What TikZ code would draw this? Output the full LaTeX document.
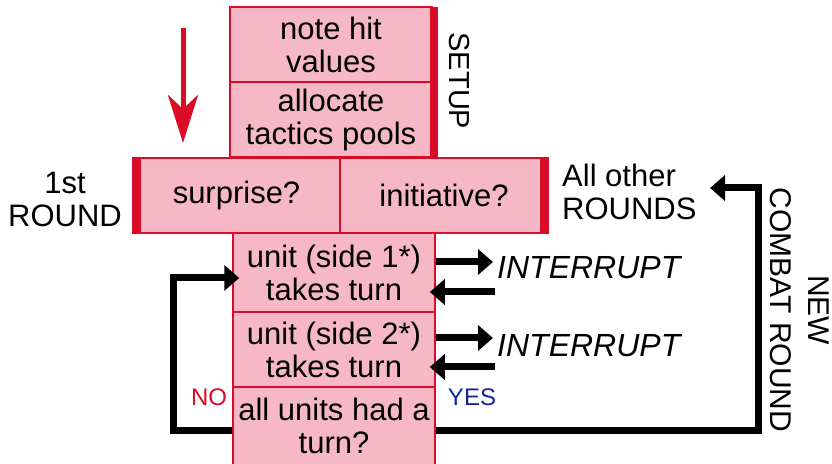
\documentclass[tikz,border=0pt]{standalone}
\usepackage{fontspec}
\setmainfont{Liberation Sans}
\usetikzlibrary{arrows.meta}
\definecolor{boxpink}{RGB}{246,184,199}
\definecolor{boxred}{RGB}{218,12,40}
\definecolor{yesblue}{RGB}{20,35,150}
\begin{document}
\begin{tikzpicture}[x=1pt,y=1pt,
  box/.style={draw=boxred, line width=1.5pt, fill=boxpink, inner sep=0pt, align=center, font=\fontsize{31}{33}\selectfont},
  blk/.style={line width=7pt, line join=miter, -{Triangle[width=25pt,length=15pt]}},
  redarrow/.style={draw=boxred, line width=5pt, -{Stealth[width=30pt,length=48pt,inset=14pt]}},
  lbl/.style={font=\fontsize{31}{33}\selectfont, align=center, inner sep=0pt}]
\useasboundingbox (0,0) rectangle (832,463);
% setup column
\node[box, minimum width=202pt, minimum height=75pt] (n1) at (331,418.5) {note hit\\values};
\node[box, minimum width=202pt, minimum height=75pt] (n2) at (331,343.5) {allocate\\tactics pools};
\fill[boxred] (430,456) rectangle (438,306);
% lower column
\node[box, minimum width=202pt, minimum height=79pt] (u1) at (334,190.5) {unit (side 1*)\\takes turn};
\node[box, minimum width=202pt, minimum height=76pt] (u2) at (334,113) {unit (side 2*)\\takes turn};
\node[box, minimum width=202pt, minimum height=78pt] (u3) at (334,37) {all units had a\\turn?};
% middle row
\node[box, minimum width=207pt, minimum height=75pt] (s) at (236.5,267.5) {surprise?};
\node[box, minimum width=208pt, minimum height=75pt] (ini) at (444,267.5) {initiative?};
\fill[boxred] (133,305) rectangle (141,230);
\fill[boxred] (540,305) rectangle (548,230);
% labels
\node[lbl] (first) at (65,264) {1st\\ROUND};
\node[lbl, align=left, anchor=west] (other) at (562,271.5) {All other\\ROUNDS};
\node[lbl, rotate=-90, font=\fontsize{29}{33}\selectfont] (setup) at (459.5,382) {SETUP};
\node[lbl, rotate=-90, font=\fontsize{30}{38}\selectfont] (ncr) at (800,153) {NEW\\COMBAT ROUND};
\node[lbl, anchor=west, font=\fontsize{32}{33}\itshape] (int1) at (497,195) {INTERRUPT};
\node[lbl, anchor=west, font=\fontsize{32}{33}\itshape] (int2) at (497,117) {INTERRUPT};
\node[lbl, text=boxred, font=\fontsize{24}{24}\selectfont] (no) at (209,65.5) {NO};
\node[lbl, text=yesblue, font=\fontsize{24}{24}\selectfont] (yes) at (472,66) {YES};
% red start arrow
\coordinate (rs) at (183,435);
\coordinate (re) at (183,320);
\draw[redarrow] (rs) -- (re);
% interrupt arrows
\coordinate (i1r) at (493,201);
\coordinate (i1l) at (495,171);
\coordinate (i2r) at (493,125);
\coordinate (i2l) at (495,96);
\draw[blk] (u1.east |- i1r) -- (i1r);
\draw[blk] (i1l) -- ([xshift=-6pt]u1.east |- i1l);
\draw[blk] (u2.east |- i2r) -- (i2r);
\draw[blk] (i2l) -- ([xshift=-6pt]u2.east |- i2l);
% NO loop
\draw[blk] ([yshift=-4pt]u3.west) -- (173,33) -- (173,185) -- ([xshift=7pt,yshift=-5.5pt]u1.west);
% YES loop
\coordinate (ye) at (710,275);
\draw[blk] ([yshift=-4pt]u3.east) -- (758,33) -- (758,275) -- (ye);
\end{tikzpicture}
\end{document}
